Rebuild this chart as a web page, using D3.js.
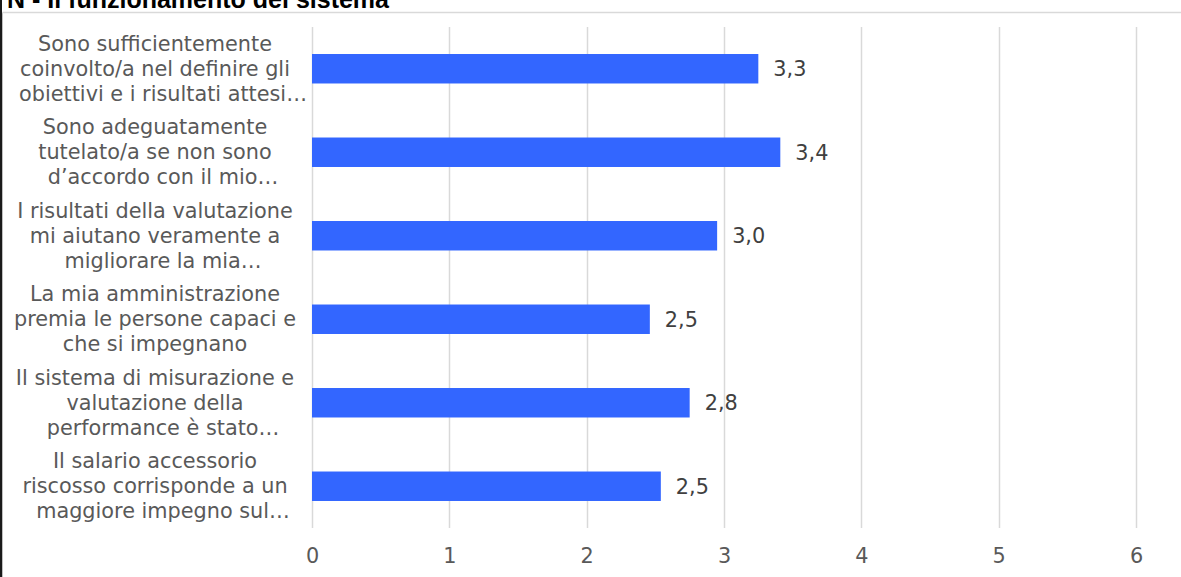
<!DOCTYPE html>
<html>
<head>
<meta charset="utf-8">
<script src="https://cdn.jsdelivr.net/npm/d3@7"></script>
<style>
  html, body { margin: 0; padding: 0; background: #fff; overflow: hidden; }
  svg { display: block; }
  .lbl { font-family: "DejaVu Sans", "Verdana", sans-serif; font-size: 20.8px; }
  .ttl { font-family: "Liberation Sans", "Arial", sans-serif; font-weight: bold; font-size: 25px; }
</style>
</head>
<body>
<svg id="chart" width="1181" height="577"></svg>
<script>
const title = "N - Il funzionamento del sistema";
const categories = [
  "Sono sufficientemente\ncoinvolto/a nel definire gli\nobiettivi e i risultati attesi…",
  "Sono adeguatamente\ntutelato/a se non sono\nd’accordo con il mio…",
  "I risultati della valutazione\nmi aiutano veramente a\nmigliorare la mia…",
  "La mia amministrazione\npremia le persone capaci e\nche si impegnano",
  "Il sistema di misurazione e\nvalutazione della\nperformance è stato…",
  "Il salario accessorio\nriscosso corrisponde a un\nmaggiore impegno sul…"
];
const values = [3.25, 3.41, 2.95, 2.46, 2.75, 2.54];
const xTicks = [0, 1, 2, 3, 4, 5, 6];

const W = 1181, H = 577;
const margin = { left: 312, right: 45, top: 27, bottom: 49 };
const svg = d3.select("#chart");

// frame decorations
svg.append("rect").attr("x", 0).attr("y", 0).attr("width", 2).attr("height", H).attr("fill", "#1a1a1a");
svg.append("line").attr("x1", 2.5).attr("x2", 2.5).attr("y1", 12).attr("y2", H).attr("stroke", "#bfbfbf").attr("stroke-width", 1);
svg.append("line").attr("x1", 2).attr("x2", W).attr("y1", 12.5).attr("y2", 12.5).attr("stroke", "#d9d9d9").attr("stroke-width", 1.5);

svg.append("text")
  .attr("class", "ttl")
  .attr("x", 7).attr("y", 8)
  .attr("fill", "#000")
  .text(title);

const x = d3.scaleLinear().domain([0, 6]).range([margin.left, W - margin.right]);
const y = d3.scaleBand().domain(categories).range([margin.top, H - margin.bottom]).paddingInner(0.647).paddingOuter(0.3235);

// gridlines
svg.append("g").selectAll("line").data(xTicks).join("line")
  .attr("x1", d => Math.round(x(d)) + 0.5).attr("x2", d => Math.round(x(d)) + 0.5)
  .attr("y1", margin.top).attr("y2", H - margin.bottom)
  .attr("stroke", "#d9d9d9").attr("stroke-width", 1.5);

// x axis labels
const xAxis = d3.axisBottom(x).tickValues(xTicks).tickSize(0).tickPadding(0).tickFormat(d3.format("d"));
const gx = svg.append("g").attr("transform", `translate(0,${H - margin.bottom})`).call(xAxis);
gx.attr("font-family", null).attr("font-size", null);
gx.select(".domain").remove();
gx.selectAll("text")
  .attr("class", "lbl")
  .attr("y", 35).attr("dy", 0)
  .attr("fill", "#595959");

// bars
svg.append("g").selectAll("rect").data(values).join("rect")
  .attr("x", x(0))
  .attr("y", (d, i) => y(categories[i]))
  .attr("width", d => x(d) - x(0))
  .attr("height", y.bandwidth())
  .attr("fill", "#3366ff");

// value labels
const fmt = v => d3.format(".1f")(v).replace(".", ",");
svg.append("g").selectAll("text").data(values).join("text")
  .attr("class", "lbl")
  .attr("x", d => x(d) + 15)
  .attr("y", (d, i) => y(categories[i]) + y.bandwidth() / 2 + 7.5)
  .attr("fill", "#404040")
  .text(d => fmt(d));

// category labels
const yAxis = d3.axisLeft(y).tickSize(0).tickPadding(0);
const gy = svg.append("g").attr("transform", `translate(${margin.left},0)`).call(yAxis);
gy.attr("font-family", null).attr("font-size", null);
gy.select(".domain").remove();
gy.selectAll(".tick text").each(function(d) {
  const t = d3.select(this);
  const lines = d.split("\n");
  t.text(null)
    .attr("class", "lbl")
    .attr("x", 0).attr("dy", null)
    .attr("text-anchor", "middle")
    .attr("fill", "#595959");
  lines.forEach((ln, k) => {
    const ell = ln.endsWith("…");
    t.append("tspan")
      .attr("x", 155 - margin.left + (ell ? 8 : 0))
      .attr("y", 7 + (k - 1) * 24.8)
      .text(ln);
  });
});
</script>
</body>
</html>
